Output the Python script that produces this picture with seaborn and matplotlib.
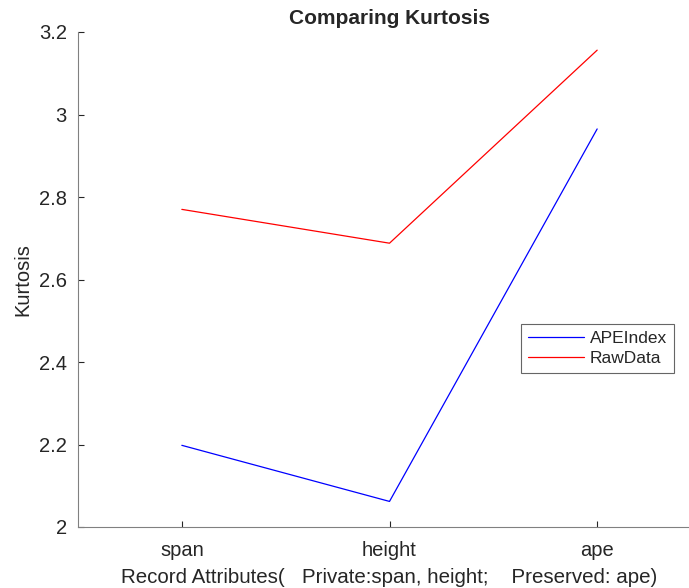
import matplotlib
matplotlib.use("Agg")
import matplotlib.pyplot as plt
import seaborn as sns
import pandas as pd

attributes = ["span", "height", "ape"]
ape_index = [2.198, 2.062, 2.965]
raw_data = [2.770, 2.688, 3.156]
y_ticks = [2.0, 2.2, 2.4, 2.6, 2.8, 3.0, 3.2]
y_tick_labels = ["2", "2.2", "2.4", "2.6", "2.8", "3", "3.2"]

sns.set_style("white")
plt.rcParams["font.family"] = ["Liberation Sans", "DejaVu Sans"]

positions = list(range(1, len(attributes) + 1))
df = pd.DataFrame({
    "pos": positions * 2,
    "kurtosis": ape_index + raw_data,
    "series": ["APEIndex"] * 3 + ["RawData"] * 3,
})

fig = plt.figure(figsize=(6.89, 5.88), dpi=100)
ax = fig.add_axes([78 / 689, 61 / 588, 623 / 689, 495 / 588])

sns.lineplot(data=df, x="pos", y="kurtosis", hue="series",
             palette={"APEIndex": "#0000ff", "RawData": "#ff0000"},
             linewidth=0.9, ax=ax, legend=True)

grey = "#262626"
ax.set_xlim(0.5, 3.5)
ax.set_ylim(2.0, 3.2)
ax.set_xticks(positions)
ax.set_xticklabels(attributes)
ax.set_yticks(y_ticks)
ax.set_yticklabels(y_tick_labels)
ax.tick_params(direction="in", length=4, width=0.8, colors=grey,
               labelsize=14.5, pad=8, left=True, bottom=True)
ax.tick_params(axis="x", pad=10)
for side in ["top", "right"]:
    ax.spines[side].set_visible(False)
for side in ["left", "bottom"]:
    ax.spines[side].set_color("#808080")
    ax.spines[side].set_linewidth(0.8)

ax.set_xlabel("Record Attributes(   Private:span, height;    Preserved: ape)",
              fontsize=14.8, color=grey, labelpad=6)
ax.set_ylabel("Kurtosis", fontsize=14.5, color=grey, labelpad=5)
ax.set_title("Comparing Kurtosis", fontsize=15, fontweight="bold", pad=6)

leg = ax.legend(loc="upper left", bbox_to_anchor=(443 / 623, (527 - 324) / 495),
                frameon=True, fancybox=False, fontsize=12.5, handlelength=3.2,
                borderpad=0.4, labelspacing=0.3, handletextpad=0.35,
                borderaxespad=0)
leg.get_frame().set_edgecolor("#404040")
leg.get_frame().set_linewidth(0.8)

fig.savefig("out.png", dpi=100)
